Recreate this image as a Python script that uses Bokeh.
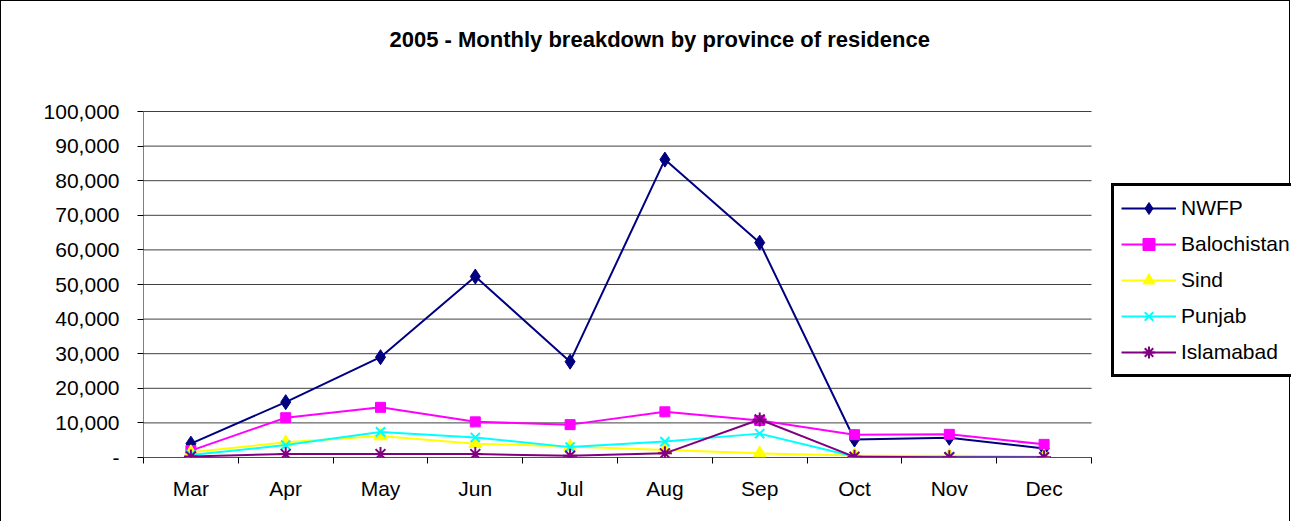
from bokeh.plotting import figure
from bokeh.models import Range1d, FixedTicker, Legend, LegendItem
from bokeh.embed import file_html
from bokeh.resources import INLINE

months = ["Mar", "Apr", "May", "Jun", "Jul", "Aug", "Sep", "Oct", "Nov", "Dec"]
nwfp = [4000, 16000, 29000, 52300, 27700, 86100, 62100, 5200, 5700, 2600]
balochistan = [2000, 11500, 14500, 10300, 9500, 13200, 10700, 6600, 6700, 3800]
sind = [1500, 4400, 6200, 4000, 3200, 2200, 1200, 600, 500, 300]
punjab = [700, 3600, 7400, 5800, 3000, 4600, 6900, 300, 200, 100]
islamabad = [300, 1000, 1000, 1000, 500, 1200, 11000, 200, 100, 100]
y_ticks = [0, 10000, 20000, 30000, 40000, 50000, 60000, 70000, 80000, 90000, 100000]

FONT = "Liberation Sans"

# layout (pixels)
W, H = 1290, 525
LEFT, TOP, BOTTOM = 142, 70, 69
PLOT_W, PLOT_H = 948, 346          # size of the value area (0..100,000, 10 months)
frame_w = W - LEFT
frame_h = H - TOP - BOTTOM
n = len(months)
y_max = y_ticks[-1]
x_end = n * frame_w / PLOT_W       # frame extends right to host the legend
y_end = y_max * frame_h / PLOT_H   # and upward under the title

p = figure(width=W, height=H, output_backend="svg", toolbar_location=None,
           x_range=Range1d(0, x_end), y_range=Range1d(0, y_end),
           min_border_left=LEFT, min_border_right=0, min_border_top=TOP,
           min_border_bottom=BOTTOM)
p.styles = {"border": "1px solid black"}
p.outline_line_color = None
p.background_fill_color = "white"
p.border_fill_color = "white"

p.title.text = "2005 - Monthly breakdown by province of residence"
p.title.text_font = FONT
p.title.text_font_size = "22px"
p.title.text_font_style = "bold"
p.title.text_color = "black"
p.title.align = "left"
p.title.offset = 246
p.title.standoff = 39

xs = [i + 0.5 for i in range(n)]

# gridlines and axis lines limited to the value area
p.xgrid.grid_line_color = None
p.ygrid.grid_line_color = None
p.segment(x0=[0] * len(y_ticks), x1=[n] * len(y_ticks), y0=y_ticks, y1=y_ticks,
          line_color="#404040", line_width=1)
p.segment(x0=[0], x1=[n], y0=[0], y1=[0], line_color="black", line_width=1)
p.segment(x0=[0], x1=[0], y0=[0], y1=[y_max], line_color="black", line_width=1)

# axes
p.xaxis.ticker = FixedTicker(ticks=xs, minor_ticks=list(range(n + 1)))
p.xaxis.major_label_overrides = {x: m for x, m in zip(xs, months)}
p.xaxis.major_tick_out = 0
p.xaxis.major_tick_in = 0
p.xaxis.minor_tick_out = 6
p.xaxis.minor_tick_in = 0
p.xaxis.minor_tick_line_color = "black"
p.xaxis.axis_line_color = None
p.xaxis.major_label_text_font = FONT
p.xaxis.major_label_text_font_size = "21px"
p.xaxis.major_label_text_color = "black"
p.xaxis.major_label_standoff = 13

p.yaxis.ticker = FixedTicker(ticks=y_ticks)
p.yaxis.major_label_overrides = {t: ("-" if t == 0 else f"{t:,}") for t in y_ticks}
p.yaxis.major_tick_out = 6
p.yaxis.major_tick_in = 0
p.yaxis.minor_tick_line_color = None
p.yaxis.axis_line_color = None
p.yaxis.major_tick_line_color = "black"
p.yaxis.major_label_text_font = FONT
p.yaxis.major_label_text_font_size = "21px"
p.yaxis.major_label_text_color = "black"
p.yaxis.major_label_standoff = 18

series = [
    ("NWFP", nwfp, "#000080", "diamond", 15),
    ("Balochistan", balochistan, "#FF00FF", "square", 10),
    ("Sind", sind, "#FFFF00", "triangle", 13),
    ("Punjab", punjab, "#00FFFF", "x", 13),
    ("Islamabad", islamabad, "#800080", "asterisk", 14),
]

items = []
for name, vals, color, marker, size in series:
    lr = p.line(xs, vals, line_color=color, line_width=2)
    if marker in ("x", "asterisk"):
        sr = p.scatter(xs, vals, marker=marker, size=size, line_color=color,
                       line_width=2, fill_color=color)
    else:
        sr = p.scatter(xs, vals, marker=marker, size=size, line_color=color,
                       fill_color=color)
    items.append(LegendItem(label=name, renderers=[lr, sr]))

legend = Legend(items=items, location=(968, 80))
legend.border_line_color = "black"
legend.border_line_alpha = 1
legend.border_line_width = 3
legend.background_fill_color = "white"
legend.background_fill_alpha = 1
legend.label_text_font = FONT
legend.label_text_font_size = "21px"
legend.label_text_color = "black"
legend.glyph_width = 55
legend.glyph_height = 30
legend.label_height = 20
legend.spacing = 6
legend.padding = 7
legend.margin = 0
legend.label_standoff = 5
p.add_layout(legend, "center")

open("out.html", "w").write(file_html(p, INLINE))
